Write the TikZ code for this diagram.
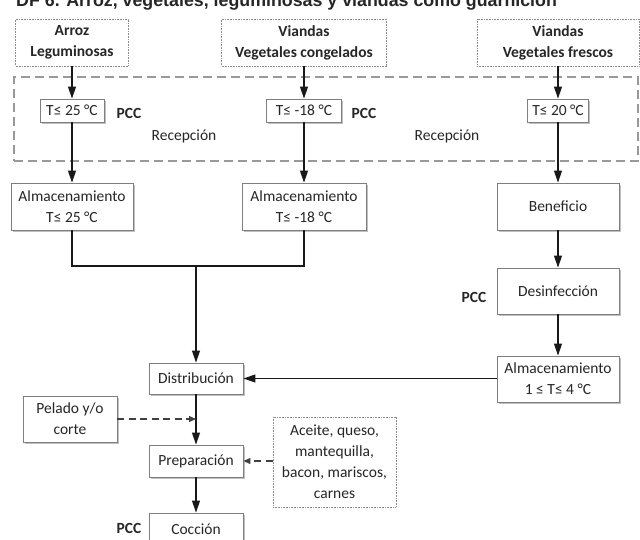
\documentclass[tikz,border=0pt]{standalone}
\usepackage{fontspec}
\setmainfont{Carlito}
\newfontfamily\titlefont{Liberation Sans}
\usetikzlibrary{arrows.meta,shadows}
\definecolor{txt}{HTML}{262626}
\definecolor{bord}{HTML}{7F7F7F}
\begin{document}
\begin{tikzpicture}[x=1pt,y=-1pt,
  every node/.style={text=txt, font=\fontsize{15.5}{21}\selectfont, inner sep=0pt, align=center},
  procbox/.style={draw=bord, line width=0.9pt, fill=white,
     drop shadow={shadow xshift=1.6pt, shadow yshift=-1.6pt, fill=black!35, opacity=0.7}},
  srcbox/.style={draw=black!45, line width=0.7pt, dash pattern=on 0.8pt off 0.8pt, fill=white,
     font=\bfseries\fontsize{15.5}{21}\selectfont},
  notebox/.style={draw=black!45, line width=0.7pt, dash pattern=on 0.8pt off 0.8pt, fill=white},
  pcc/.style={font=\bfseries\fontsize{15.5}{21}\selectfont},
  arr/.style={draw=black!90, line width=1.1pt, -{Triangle[length=12pt,width=8pt]}},
  plain/.style={draw=black!90, line width=1.1pt},
  darr/.style={draw=black!75, line width=1.2pt, dash pattern=on 7pt off 4.5pt, -{Triangle[length=7pt,width=6pt]}}
]
\useasboundingbox (0,0) rectangle (640,539);
\fill[white] (0,0) rectangle (640,539);

% title (top part cut off, as in the reference)
\node[anchor=base west, font=\titlefont\bfseries\fontsize{17.8}{20}\selectfont] (title) at (16,6.5)
  {DF 6. Arroz, vegetales, leguminosas y viandas como guarnición};

% reception area
\node[draw=black!40, line width=1.6pt, dash pattern=on 9pt off 5pt, minimum width=624, minimum height=84] (rec) at (326,119) {};

% sources
\node[srcbox, minimum width=113, minimum height=47] (s1) at (72,42.5) {Arroz\\Leguminosas};
\node[srcbox, minimum width=165, minimum height=47] (s2) at (304,42.5) {Viandas\\Vegetales congelados};
\node[srcbox, minimum width=162, minimum height=47] (s3) at (558,42.5) {Viandas\\Vegetales frescos};

% temperature checks
\node[procbox, minimum width=64, minimum height=23] (t1) at (72,110.5) {T≤ 25 °C};
\node[procbox, minimum width=75, minimum height=23] (t2) at (304,110.5) {T≤ -18 °C};
\node[procbox, minimum width=61, minimum height=23] (t3) at (558,110.5) {T≤ 20 °C};
\node[pcc] (p1) at (129,113) {PCC};
\node[pcc] (p2) at (364,113) {PCC};
\node (r1) at (184,136) {Recepción};
\node (r2) at (447,136) {Recepción};

% storage / processing
\node[procbox, minimum width=122, minimum height=47] (a1) at (72,206.5) {Almacenamiento\\T≤ 25 °C};
\node[procbox, minimum width=124, minimum height=47] (a2) at (304,206.5) {Almacenamiento\\T≤ -18 °C};
\node[procbox, minimum width=122, minimum height=47] (ben) at (558,206.5) {Beneficio};
\node[procbox, minimum width=122, minimum height=46] (des) at (558,291) {Desinfección};
\node[pcc] (p4) at (474,297) {PCC};
\node[procbox, minimum width=122, minimum height=46] (a3) at (558,379) {Almacenamiento\\1 ≤ T≤ 4 °C};

\node[procbox, minimum width=94, minimum height=31] (dist) at (196,378.5) {Distribución};
\node[procbox, minimum width=94, minimum height=46] (pel) at (70,419) {Pelado y/o\\corte};
\node[procbox, minimum width=94, minimum height=32] (prep) at (196,461) {Preparación};
\node[notebox, minimum width=123, minimum height=90] (ace) at (334.5,462) {Aceite, queso,\\mantequilla,\\bacon, mariscos,\\carnes};
\node[procbox, minimum width=94, minimum height=32] (coc) at (196,529) {Cocción};
\node[pcc] (p3) at (129,528) {PCC};

\coordinate (m) at (196,266);

% connectors
\draw[arr] (s1) -- (t1);
\draw[arr] (s2) -- (t2);
\draw[arr] (s3) -- (t3);
\draw[arr] (t1) -- (a1);
\draw[arr] (t2) -- (a2);
\draw[arr] (t3) -- (ben);
\draw[arr] (ben) -- (des);
\draw[arr] (des) -- (a3);
\draw[plain] (a1.south) |- (m) -| (a2.south);
\draw[arr] (m) -- (dist.north);
\draw[arr] (a3.west |- dist.east) -- (dist.east);
\draw[arr] (dist) -- (prep);
\draw[darr] (pel.east) -- (pel.east -| dist.south);
\draw[darr] (ace.west |- prep.east) -- (prep.east);
\draw[arr] (prep) -- (coc);
\end{tikzpicture}
\end{document}
